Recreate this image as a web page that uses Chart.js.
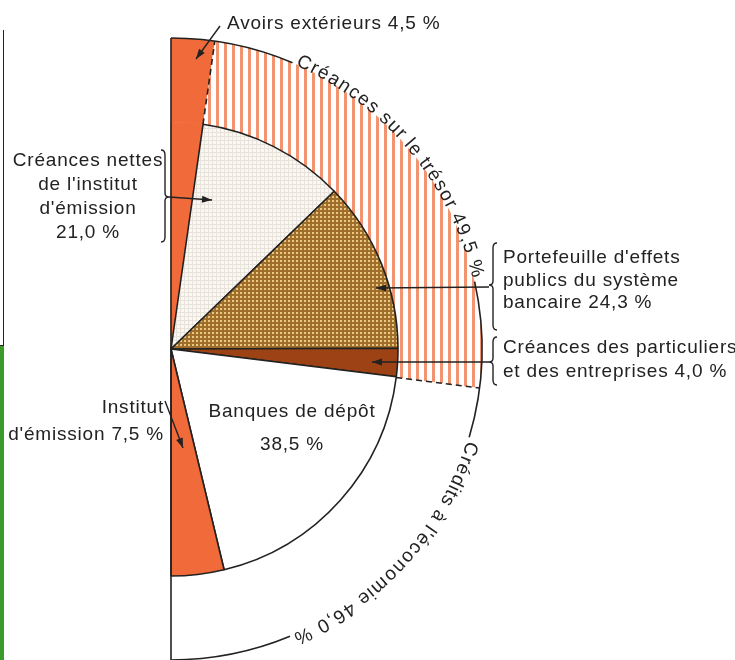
<!DOCTYPE html>
<html>
<head>
<meta charset="utf-8">
<script src="https://cdn.jsdelivr.net/npm/chart.js@4"></script>
<style>
  html, body { margin: 0; padding: 0; background: #fff; overflow: hidden; }
  #wrap { position: relative; width: 735px; height: 660px; }
  #c { position: absolute; left: 0; top: 0; }
  /* bord du graphique voisin, à gauche */
  .voisin-haut { position: absolute; left: 3px; top: 30px; width: 0; height: 315px; border-left: 1.5px solid #222; }
  .voisin-bas { position: absolute; left: 0; top: 345px; width: 4px; height: 320px; background: #3a9a2a; border-top: 1.5px solid #222; }
</style>
</head>
<body>
<div id="wrap">
  <div class="voisin-haut"></div>
  <div class="voisin-bas"></div>
  <canvas id="c" width="735" height="700"></canvas>
</div>
<script>
// Contreparties de la masse monétaire (en %)
const grandesMasses = ['Avoirs extérieurs', 'Créances sur le trésor', 'Crédits à l\'économie'];
const valeursMasses = [4.5, 49.5, 46.0];

const detail = ['Avoirs extérieurs', 'Créances nettes de l\'institut d\'émission',
  'Portefeuille d\'effets publics du système bancaire', 'Créances des particuliers et des entreprises',
  'Banques de dépôt', 'Institut d\'émission'];
const valeursDetail = [4.5, 21.0, 24.3, 4.0, 38.5, 7.5];

const ORANGE = '#f06a3a';
const ENCRE = '#222';
const POLICE = '19px "Liberation Sans", Arial, sans-serif';

// ----- trames -----
function trame(w, h, dessin) {
  const cv = document.createElement('canvas');
  cv.width = w; cv.height = h;
  dessin(cv.getContext('2d'));
  return document.getElementById('c').getContext('2d').createPattern(cv, 'repeat');
}
const hachures = trame(16, 4, g => {
  g.fillStyle = '#fff'; g.fillRect(0, 0, 16, 4);
  g.fillStyle = '#f29470'; g.fillRect(0, 0, 3, 4); g.fillRect(8, 0, 3, 4);
});
const pointsClairs = trame(4, 4, g => {
  g.fillStyle = '#fbf8f3'; g.fillRect(0, 0, 4, 4);
  g.fillStyle = '#e8e3da'; g.fillRect(0, 0, 4, 1); g.fillRect(0, 0, 1, 4);
});
const pointsBruns = trame(4, 4, g => {
  g.fillStyle = '#9e6e2a'; g.fillRect(0, 0, 4, 4);
  g.fillStyle = '#eac782'; g.fillRect(0, 0, 2, 2);
});

// ----- petits outils de dessin -----
const rad = d => d * Math.PI / 180;

function texteCourbe(ctx, texte, cx, cy, rayon, deDeg, aDeg) {
  ctx.save();
  ctx.font = POLICE;
  ctx.fillStyle = ENCRE;
  ctx.textAlign = 'center';
  ctx.textBaseline = 'middle';
  const lettres = [...texte];
  const largeurs = lettres.map(ch => ctx.measureText(ch).width);
  const total = largeurs.reduce((a, b) => a + b, 0);
  const k = rad(aDeg - deDeg) / total;
  let a = rad(deDeg);
  lettres.forEach((ch, i) => {
    const m = a + largeurs[i] * k / 2;
    ctx.save();
    ctx.translate(cx + rayon * Math.sin(m), cy - rayon * Math.cos(m));
    ctx.rotate(m);
    ctx.fillText(ch, 0, 0);
    ctx.restore();
    a += largeurs[i] * k;
  });
  ctx.restore();
}

function fleche(ctx, pts, pointe = true) {
  ctx.beginPath();
  ctx.moveTo(pts[0][0], pts[0][1]);
  for (let i = 1; i < pts.length; i++) ctx.lineTo(pts[i][0], pts[i][1]);
  ctx.stroke();
  if (!pointe) return;
  const [x1, y1] = pts[pts.length - 2];
  const [x2, y2] = pts[pts.length - 1];
  const ang = Math.atan2(y2 - y1, x2 - x1);
  ctx.beginPath();
  ctx.moveTo(x2, y2);
  ctx.lineTo(x2 - 10 * Math.cos(ang) + 3.5 * Math.sin(ang), y2 - 10 * Math.sin(ang) - 3.5 * Math.cos(ang));
  ctx.lineTo(x2 - 10 * Math.cos(ang) - 3.5 * Math.sin(ang), y2 - 10 * Math.sin(ang) + 3.5 * Math.cos(ang));
  ctx.closePath();
  ctx.fill();
}

// accolade verticale ; sens = 1 pointe à droite, -1 pointe à gauche
function accolade(ctx, x, haut, pointeY, bas, sens) {
  const w = 4 * sens;
  ctx.beginPath();
  ctx.moveTo(x, haut);
  ctx.quadraticCurveTo(x + w, haut, x + w, haut + 5);
  ctx.lineTo(x + w, pointeY - 4);
  ctx.quadraticCurveTo(x + w, pointeY, x + 2 * w, pointeY);
  ctx.quadraticCurveTo(x + w, pointeY, x + w, pointeY + 4);
  ctx.lineTo(x + w, bas - 5);
  ctx.quadraticCurveTo(x + w, bas, x, bas);
  ctx.stroke();
}

function lignes(ctx, x, y0, pas, textes, align) {
  ctx.textAlign = align;
  textes.forEach((t, i) => ctx.fillText(t, x, y0 + i * pas));
}

// ----- habillage : contours, textes, renvois -----
const habillage = {
  id: 'habillage',
  afterDatasetsDraw(chart) {
    const ctx = chart.ctx;
    const ext = chart.getDatasetMeta(0).data;
    const cx = ext[0].x, cy = ext[0].y;
    const R = ext[0].outerRadius, r = ext[0].innerRadius;

    ctx.save();
    ctx.strokeStyle = ENCRE;
    ctx.fillStyle = ENCRE;
    ctx.lineWidth = 1.6;

    // contour extérieur, interrompu par les titres courbes
    [[0, 23], [77.5, 106.5], [157.5, 180]].forEach(([a, b]) => {
      ctx.beginPath();
      ctx.arc(cx, cy, R, rad(a - 90), rad(b - 90));
      ctx.stroke();
    });
    // diamètre
    ctx.beginPath();
    ctx.moveTo(cx, cy - R);
    ctx.lineTo(cx, cy + R);
    ctx.stroke();
    // séparations pointillées de la couronne
    ctx.setLineDash([6, 4]);
    [ext[0].endAngle, ext[1].endAngle].forEach(a => {
      ctx.beginPath();
      ctx.moveTo(cx + r * Math.cos(a), cy + r * Math.sin(a));
      ctx.lineTo(cx + R * Math.cos(a), cy + R * Math.sin(a));
      ctx.stroke();
    });
    ctx.setLineDash([]);

    texteCourbe(ctx, 'Créances sur le trésor 49,5 %', cx, cy, R + 4, 23.5, 77);
    texteCourbe(ctx, 'Crédits à l\'économie 46,0 %', cx, cy, R + 4, 107, 157);

    // textes droits
    ctx.font = POLICE;
    ctx.letterSpacing = '0.8px';
    ctx.textBaseline = 'alphabetic';
    lignes(ctx, 227, 29, 0, ['Avoirs extérieurs 4,5 %'], 'left');
    lignes(ctx, 88, 166, 24, ['Créances nettes', 'de l\'institut', 'd\'émission', '21,0 %'], 'center');
    lignes(ctx, 164, 413, 27, ['Institut', 'd\'émission 7,5 %'], 'right');
    lignes(ctx, 292, 417, 0, ['Banques de dépôt'], 'center');
    lignes(ctx, 292, 450, 0, ['38,5 %'], 'center');
    lignes(ctx, 503, 263, 22.5, ['Portefeuille d\'effets', 'publics du système', 'bancaire 24,3 %'], 'left');
    lignes(ctx, 503, 353, 24, ['Créances des particuliers', 'et des entreprises 4,0 %'], 'left');

    // renvois
    ctx.lineWidth = 1.4;
    fleche(ctx, [[220, 26], [196, 59]]);
    accolade(ctx, 161, 150, 197, 242, 1);
    fleche(ctx, [[169, 197], [212, 200]]);
    fleche(ctx, [[165, 401], [170, 414], [183, 448]]);
    accolade(ctx, 497, 243, 285, 330, -1);
    fleche(ctx, [[489, 287], [376, 288]]);
    accolade(ctx, 497, 337, 362, 385, -1);
    fleche(ctx, [[489, 362], [372, 362]]);
    ctx.restore();
  }
};

new Chart(document.getElementById('c'), {
  type: 'doughnut',
  data: {
    labels: detail,
    datasets: [
      {
        label: 'Grandes masses',
        data: valeursMasses,
        backgroundColor: [ORANGE, hachures, '#fff'],
        borderWidth: 0,
        weight: 84,
        order: 1
      },
      {
        label: 'Détail',
        data: valeursDetail,
        backgroundColor: [ORANGE, pointsClairs, pointsBruns, '#9c4214', '#fff', ORANGE],
        borderColor: [ORANGE, ENCRE, ENCRE, ENCRE, ENCRE, ENCRE],
        borderWidth: [1, 1.6, 1.6, 1.6, 1.6, 1.6],
        weight: 227,
        order: 0
      }
    ]
  },
  options: {
    responsive: false,
    animation: false,
    events: [],
    rotation: 0,
    circumference: 180,
    cutout: 0,
    radius: 311,
    layout: { padding: { left: 171, right: 253, top: 38, bottom: 40 } },
    plugins: { legend: { display: false }, tooltip: { enabled: false } }
  },
  plugins: [habillage]
});
</script>
</body>
</html>
